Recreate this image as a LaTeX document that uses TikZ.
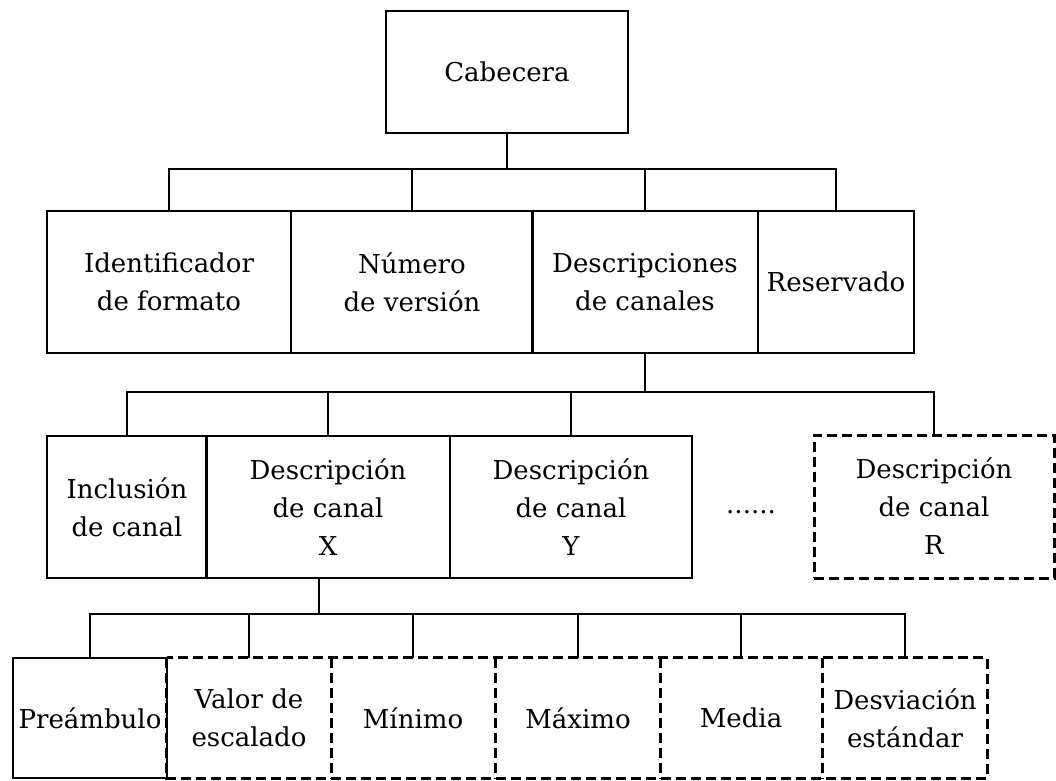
\documentclass[tikz,border=0pt]{standalone}
\usepackage{fontspec}
\setmainfont{DejaVu Serif}
\usetikzlibrary{positioning}
\tikzset{
  box/.style={draw,line width=1.6pt,inner sep=0pt,align=center,minimum height=142pt},
  cell/.style={inner sep=0pt,align=center,minimum height=120pt},
  dbox/.style={line width=3pt,dash pattern=on 10pt off 5pt},
  link/.style={line width=1.6pt},
}

\begin{document}
\begin{tikzpicture}[x=1pt,y=-1pt,font=\fontsize{26}{38}\selectfont]
\useasboundingbox (0,0) rectangle (1056,780);
% raiz
\node[box,minimum width=242pt,minimum height=122pt] (cab) at (507,72) {Cabecera};
% primer nivel
\node[box,minimum width=244pt] (idf) at (169,282) {Identificador\\de formato};
\node[box,minimum width=242pt] (num) at (412,282) {Número\\de versión};
\node[box,minimum width=226pt] (dcs) at (645,282) {Descripciones\\de canales};
\node[box,minimum width=156pt] (rsv) at (836,282) {Reservado};
\coordinate (b1) at (507,169);
\draw[link] (cab.south) -- (b1);
\draw[link] (idf.north) |- (b1) -| (rsv.north);
\foreach \n in {num,dcs}
  \draw[link] (\n.north) -- (\n.north |- b1);
% segundo nivel
\node[box,minimum width=160pt] (inc) at (127,507) {Inclusión\\de canal};
\node[box,minimum width=244pt] (dsx) at (328,507) {Descripción\\de canal\\X};
\node[box,minimum width=242pt] (dsy) at (571,507) {Descripción\\de canal\\Y};
\node (dots) at (751,512) {......};
\node[box,dbox,minimum width=240pt,minimum height=143pt] (dsr) at (934,506.5) {Descripción\\de canal\\R};
\coordinate (b2) at (645,392);
\draw[link] (dcs.south) -- (dcs.south |- b2);
\draw[link] (inc.north) |- (b2) -| (dsr.north);
\foreach \n in {dsx,dsy}
  \draw[link] (\n.north) -- (\n.north |- b2);
% tercer nivel
\node[box,minimum width=154pt,minimum height=120pt] (pre) at (90,718) {Preámbulo};
\node[cell,minimum width=164pt] (val) at (249,718) {Valor de\\escalado};
\node[cell,minimum width=164pt] (min) at (413,718) {Mínimo};
\node[cell,minimum width=164pt] (max) at (578,718) {Máximo};
\node[cell,minimum width=162pt] (med) at (741,718) {Media};
\node[cell,minimum width=164pt] (dsv) at (905,718) {Desviación\\estándar};
\draw[dbox] (val.north west) rectangle (dsv.south east);
\foreach \n in {val,min,max,med}
  \draw[dbox] (\n.north east) -- (\n.south east);
\coordinate (b3) at (319,614);
\draw[link] ([xshift=-9pt]dsx.south) -- (b3);
\draw[link] (pre.north) |- (b3) -| (dsv.north);
\foreach \n in {val,min,max,med}
  \draw[link] (\n.north) -- (\n.north |- b3);
\end{tikzpicture}
\end{document}
